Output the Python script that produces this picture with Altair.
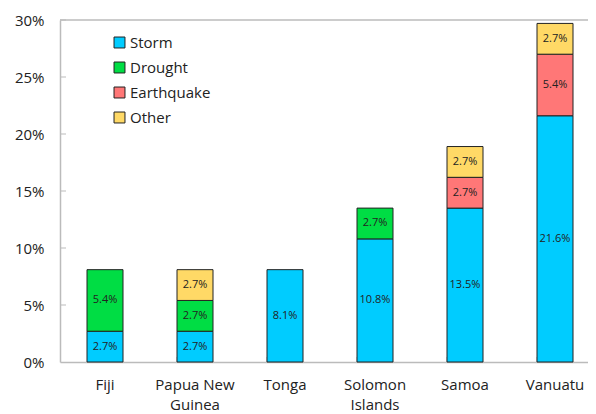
import altair as alt
import pandas as pd

countries = ["Fiji", "Papua New Guinea", "Tonga", "Solomon Islands", "Samoa", "Vanuatu"]
hazards = ["Storm", "Drought", "Earthquake", "Other"]
colors = ["#00CCFF", "#00DD44", "#FF7777", "#FFD966"]
storm = [2.7, 2.7, 8.1, 10.8, 13.5, 21.6]
drought = [5.4, 2.7, 0, 2.7, 0, 0]
earthquake = [0, 0, 0, 0, 2.7, 5.4]
other = [0, 2.7, 0, 0, 2.7, 2.7]
y_ticks = [0, 0.05, 0.10, 0.15, 0.20, 0.25, 0.30]

rows = []
for series, vals in zip(hazards, [storm, drought, earthquake, other]):
    for c, v in zip(countries, vals):
        if v > 0:
            rows.append({"country": c, "hazard": series, "value": v / 100,
                         "order": hazards.index(series), "label": f"{v:.1f}%"})
df = pd.DataFrame(rows)

FONT = "Open Sans"
W = 528
H = 342
RANGE = 540

x_enc = alt.X("country:N", sort=countries, title=None,
              scale=alt.Scale(domain=countries, range=[0, RANGE], paddingInner=0.6, paddingOuter=0.3),
              axis=alt.Axis(labelAngle=0, labelAlign="center", labelBaseline="top",
                            labelFont=FONT, labelFontSize=15, labelColor="#222",
                            labelPadding=15, labelLineHeight=20, ticks=False, labelBound=False,
                            labelOverlap=False, labelFlush=False,
                            domainColor="#BBBBBB", domainWidth=1.5,
                            labelExpr="datum.label == 'Papua New Guinea' ? ['Papua New', 'Guinea'] : datum.label == 'Solomon Islands' ? ['Solomon', 'Islands'] : datum.label"))
y_enc = alt.Y("value:Q", stack="zero", title=None,
              scale=alt.Scale(domain=[0, 0.30], nice=False),
              axis=alt.Axis(format=".0%", values=y_ticks, grid=False, ticks=False,
                            labelFont=FONT, labelFontSize=15, labelColor="#222", labelPadding=16,
                            domainColor="#BBBBBB", domainWidth=1.5))

base = alt.Chart(df)

bars = base.mark_bar(stroke="#222", strokeWidth=1).encode(
    x=x_enc,
    y=y_enc,
    color=alt.Color("hazard:N", scale=alt.Scale(domain=hazards, range=colors), title=None,
                    legend=alt.Legend(orient="none", legendX=52, legendY=15, symbolType="square",
                                      symbolSize=120, symbolStrokeColor="#222", symbolStrokeWidth=1,
                                      labelFont=FONT, labelFontSize=15, labelColor="#222",
                                      rowPadding=9, labelOffset=3)),
    order=alt.Order("order:Q"),
)

texts = base.mark_text(font=FONT, fontSize=11, color="#222").encode(
    x=alt.X("country:N", sort=countries),
    y=alt.Y("mid:Q"),
    text="label:N",
).transform_stack(
    stack="value", groupby=["country"], sort=[alt.SortField("order")], as_=["y0", "y1"]
).transform_calculate(mid="(datum.y0 + datum.y1) / 2")

ticks_df = pd.DataFrame({"v": y_ticks[1:]})
yticks = alt.Chart(ticks_df).mark_rule(color="#BBBBBB", strokeWidth=1).encode(
    y=alt.Y("v:Q"), x=alt.value(0), x2=alt.value(6))

xt_df = pd.DataFrame({"country": countries[1:]})
xticks = alt.Chart(xt_df).mark_rule(color="#BBBBBB", strokeWidth=1).encode(
    x=alt.X("country:N", sort=countries, bandPosition=0), y=alt.value(H - 5), y2=alt.value(H))

top_df = pd.DataFrame({"v": [0.30]})
topline = alt.Chart(top_df).mark_rule(color="#BBBBBB", strokeWidth=1.5).encode(
    y=alt.Y("v:Q"), x=alt.value(0), x2=alt.value(RANGE + 20))

chart = alt.layer(topline, yticks, xticks, bars, texts).properties(
    width=W, height=H,
    autosize=alt.AutoSizeParams(type="none"),
    padding={"left": 52, "top": 12, "right": 0, "bottom": 52},
).configure_view(stroke=None)

chart.save("out.html", embed_options={"renderer": "svg", "actions": False})
